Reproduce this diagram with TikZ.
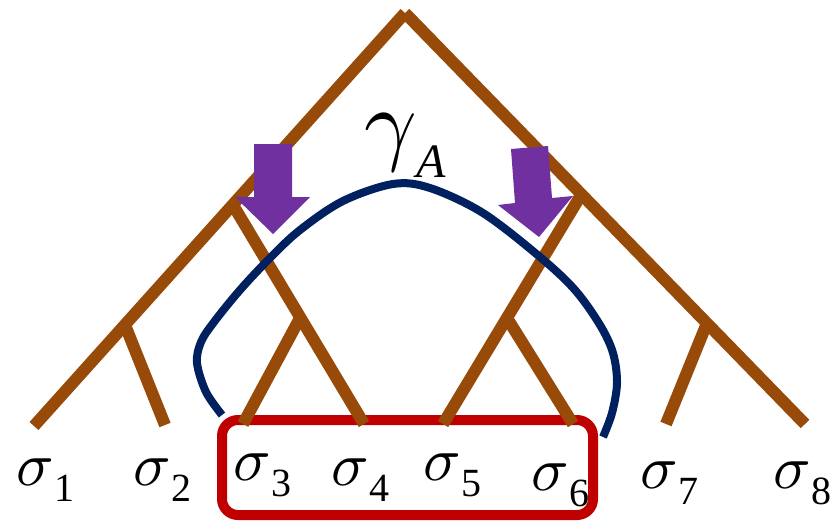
\documentclass[tikz,border=0pt]{standalone}
\usepackage{graphicx}
\usepackage{fontspec}
\setmainfont{Liberation Serif}
\definecolor{treebrown}{RGB}{152,74,8}
\definecolor{curveblue}{RGB}{0,32,96}
\definecolor{boxred}{RGB}{192,0,0}
\definecolor{arrowpurple}{RGB}{112,48,160}
\newcommand{\sigl}[1]{\scalebox{6.2}{$\sigma$}\kern1pt\raisebox{-16pt}{\fontsize{40}{40}\selectfont #1}}
\begin{document}
\begin{tikzpicture}[x=1pt,y=-1pt,
  branch/.style={draw=treebrown,line width=12pt,line cap=butt},
  lab/.style={inner sep=0pt,anchor=base west},
  bigarrow/.style={fill=arrowpurple,draw=none}]
\useasboundingbox (0,0) rectangle (837,527);
% selection box
\draw[boxred,line width=10pt,rounded corners=16pt] (222,420) rectangle (593,515);
% tree points
\coordinate (root) at (405,13);
\coordinate (n1) at (233,205);
\coordinate (n2) at (125,325);
\coordinate (n3) at (300,318);
\coordinate (m1) at (581,195);
\coordinate (m2) at (707,323);
\coordinate (m3) at (507,318);
\coordinate (l1) at (34,426);
\coordinate (l2) at (165,425);
\coordinate (l3) at (243,424);
\coordinate (l4) at (364,424);
\coordinate (l5) at (443,424);
\coordinate (l6) at (573,424);
\coordinate (l7) at (666,424);
\coordinate (l8) at (805,424);
\draw[branch] (root) -- (l1);
\draw[branch] (root) -- (l8);
\draw[branch] (n2) -- (l2);
\draw[branch] (n1) -- (l4);
\draw[branch] (n3) -- (l3);
\draw[branch] (m1) -- (l5);
\draw[branch] (m3) -- (l6);
\draw[branch] (m2) -- (l7);
% curve gamma_A
\draw[curveblue,line width=8pt] plot[smooth,tension=0.55] coordinates {
 (222,415) (206,392) (197,363) (201,342) (214,322) (240,290) (270,258)
 (300,230) (343,201) (393,184) (430,188) (483,213) (540,257) (575,290)
 (600,325) (613,353) (617,383) (612,413) (603,437)};
% arrows
\fill[bigarrow] (254,144) -- (292,144) -- (292,197) -- (310,197) -- (273,234) -- (235,197) -- (254,197) -- cycle;
\fill[bigarrow] (511,149) -- (548,146) -- (552,198) -- (573,196) -- (539,237) -- (498,205) -- (515,203) -- cycle;
% labels
\node[lab] (gA) at (364,153) {\scalebox{9.2}{$\gamma$}\kern0pt\raisebox{-24pt}{\fontsize{48}{48}\selectfont\itshape A}};
\node[lab] (s1) at (16,485) {\sigl{1}};
\node[lab] (s2) at (133,485) {\sigl{2}};
\node[lab] (s3) at (233,480) {\sigl{3}};
\node[lab] (s4) at (331,485) {\sigl{4}};
\node[lab] (s5) at (423,480) {\sigl{5}};
\node[lab] (s6) at (531,490) {\sigl{6}};
\node[lab] (s7) at (640,488) {\sigl{7}};
\node[lab] (s8) at (773,488) {\sigl{8}};
\end{tikzpicture}
\end{document}
